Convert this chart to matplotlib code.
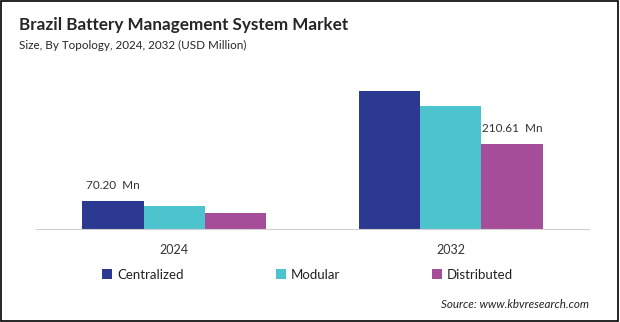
import matplotlib
matplotlib.use("Agg")
import matplotlib.pyplot as plt
import numpy as np

# Brazil BMS market size by topology (USD Million)
years = ["2024", "2032"]
segments = ["Centralized", "Modular", "Distributed"]
centralized = [70.20, 342.0]
modular = [58.0, 305.0]
distributed = [40.5, 210.61]
colors = ["#2B3990", "#4DC3CE", "#A64D9A"]

plt.rcParams["font.family"] = ["Lato", "DejaVu Sans"]

fig = plt.figure(figsize=(6.2, 3.22), dpi=100)
ax = fig.add_axes([36 / 620, 93 / 322, 553 / 620, 169 / 322])

x = np.arange(len(years))
width = 0.222
series = [centralized, modular, distributed]
for i, (name, vals, col) in enumerate(zip(segments, series, colors)):
    ax.bar(x + (i - 1) * width, vals, width, color=col, label=name)

# value labels on first bar of 2024 and last bar of 2032
ax.text(x[0] - width, centralized[0] + 38, f"{centralized[0]:.2f}  Mn",
        ha="center", va="center", fontsize=8.5, color="#333333")
ax.text(x[1] + width, distributed[1] + 39, f"{distributed[1]:.2f}  Mn",
        ha="center", va="center", fontsize=8.5, color="#333333")

ax.set_xlim(-0.5, 1.5)
ax.set_ylim(0, 419)
ax.set_xticks(x)
ax.set_xticklabels(years, fontsize=9, color="#333333")
ax.tick_params(axis="x", length=0, pad=11)
ax.set_yticks([])
for side in ["left", "right", "top"]:
    ax.spines[side].set_visible(False)
ax.spines["bottom"].set_color("#D0D0D0")

ax.legend(loc="center", bbox_to_anchor=(0.491, -0.27), ncol=3, frameon=False,
          fontsize=9.5, handlelength=0.75, handleheight=0.75, handletextpad=0.35,
          columnspacing=7.0, labelcolor="#222222")

fig.text(19 / 620, 1 - 25 / 322, "Brazil Battery Management System Market",
         fontsize=12.3, fontweight="bold", color="#262626", va="center")
fig.text(19 / 620, 1 - 45 / 322, "Size, By Topology, 2024, 2032 (USD Million)",
         fontsize=8.35, color="#262626", va="center")
fig.text(589 / 620, 1 - 304 / 322, "Source: www.kbvresearch.com",
         fontsize=8.4, style="italic", color="#222222", ha="right", va="center")

# thin frame around the whole figure
fig.add_artist(plt.Rectangle((0.001, 0.002), 0.996, 0.996, transform=fig.transFigure,
                             fill=False, edgecolor="black", linewidth=1.2))

fig.savefig("out.png", dpi=100)
